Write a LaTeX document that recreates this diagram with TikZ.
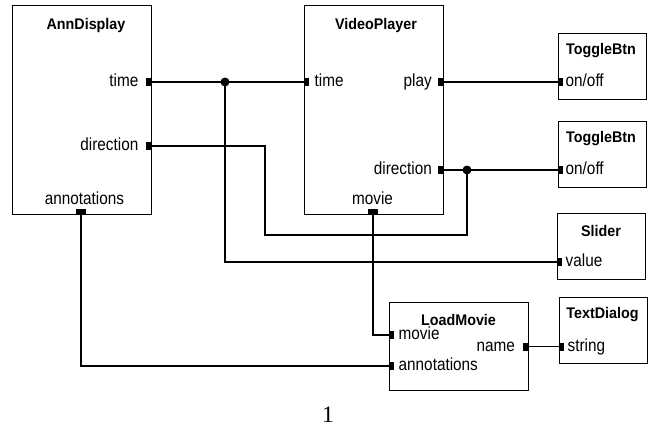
\documentclass[tikz,border=0pt]{standalone}
\usepackage{fontspec}
\setmainfont{Liberation Sans}
\newfontfamily\titlefont{Liberation Sans}[FakeStretch=0.93]
\newfontfamily\lblfont{Liberation Sans}[FakeStretch=0.875]
\newfontfamily\numfont{Liberation Serif}
\begin{document}
\begin{tikzpicture}[x=1pt,y=-1pt,
  block/.style={draw, line width=1.1pt, inner sep=0pt, anchor=north west},
  rport/.style={fill, inner sep=0pt, minimum width=5pt, minimum height=8pt, anchor=east},
  lport/.style={fill, inner sep=0pt, minimum width=5pt, minimum height=8pt, anchor=west},
  bport/.style={fill, inner sep=0pt, minimum width=10pt, minimum height=5pt, anchor=south},
  title/.style={inner sep=0pt, anchor=base, font=\titlefont\bfseries\fontsize{15.4}{18}\selectfont},
  lbl/.style={inner sep=0pt, font=\lblfont\fontsize{17.5}{20}\selectfont},
  rlbl/.style={lbl, anchor=base east},
  llbl/.style={lbl, anchor=base west},
  blbl/.style={lbl, anchor=base},
  wire/.style={line width=1.1pt},
  junction/.style={circle, fill, inner sep=0pt, minimum size=9pt}
]
\useasboundingbox (0,0) rectangle (650,428);

% AnnDisplay
\node[block, minimum width=139pt, minimum height=209pt] (ann) at (12,5) {};
\node[title] (annT) at (86,29.3) {AnnDisplay};
\node[rport] (atime) at (151,82) {};
\node[rlbl] (atimeL) at (138.5,86.8) {time};
\node[rport] (adir) at (151,146) {};
\node[rlbl] (adirL) at (138.5,150.8) {direction};
\node[bport] (aann) at (81,214) {};
\node[blbl] (aannL) at (84.5,204.8) {annotations};

% VideoPlayer
\node[block, minimum width=139pt, minimum height=209pt] (vp) at (304,5) {};
\node[title] (vpT) at (376,29.3) {VideoPlayer};
\node[lport] (vtime) at (304,82) {};
\node[llbl] (vtimeL) at (314.5,86.8) {time};
\node[rport] (vplay) at (443,82) {};
\node[rlbl] (vplayL) at (432,86.8) {play};
\node[rport] (vdir) at (443,170) {};
\node[rlbl] (vdirL) at (432,174.8) {direction};
\node[bport] (vmov) at (373,214) {};
\node[blbl] (vmovL) at (372.5,204.8) {movie};

% ToggleBtn (play)
\node[block, minimum width=88pt, minimum height=66pt] (tb1) at (558,33) {};
\node[title] (tb1T) at (601,54.5) {ToggleBtn};
\node[lport] (tb1p) at (558,82) {};
\node[llbl] (tb1L) at (565.5,86.8) {on/off};

% ToggleBtn (direction)
\node[block, minimum width=88pt, minimum height=66pt] (tb2) at (558,121) {};
\node[title] (tb2T) at (601,142.7) {ToggleBtn};
\node[lport] (tb2p) at (558,170) {};
\node[llbl] (tb2L) at (565.5,174.8) {on/off};

% Slider
\node[block, minimum width=88pt, minimum height=66pt] (sl) at (557,213) {};
\node[title] (slT) at (601,236.5) {Slider};
\node[lport] (sval) at (557,262) {};
\node[llbl] (svalL) at (565.5,266.8) {value};

% LoadMovie
\node[block, minimum width=139pt, minimum height=88pt] (lm) at (389,302) {};
\node[title] (lmT) at (458.5,325) {LoadMovie};
\node[lport] (lmov) at (389,335) {};
\node[llbl] (lmovL) at (398.5,339.8) {movie};
\node[rport] (lname) at (528,346.5) {};
\node[rlbl] (lnameL) at (515,351.3) {name};
\node[lport] (lann) at (389,366) {};
\node[llbl] (lannL) at (398.5,370.8) {annotations};

% TextDialog
\node[block, minimum width=88pt, minimum height=66pt] (td) at (559,297) {};
\node[title] (tdT) at (602.5,318) {TextDialog};
\node[lport] (tstr) at (559,346.5) {};
\node[llbl] (tstrL) at (567.5,351.3) {string};

% junctions and corners
\node[junction] (j1) at (225,82) {};
\node[junction] (j2) at (467,170) {};
\coordinate (c1) at (265,235);

% connections
\draw[wire] (atime.east) -- (j1.center) -- (vtime.west);
\draw[wire] (j1.center) |- (sval.west);
\draw[wire] (vplay.east) -- (tb1p.west);
\draw[wire] (vdir.east) -- (j2.center) -- (tb2p.west);
\draw[wire] (j2.center) |- (c1) |- (adir.east);
\draw[wire] (vmov.south) |- (lmov.west);
\draw[wire] (aann.south) |- (lann.west);
\draw[wire] (lname.east) -- (tstr.west);

% page number
\node[inner sep=0pt, anchor=base, font=\numfont\fontsize{23.5}{26}\selectfont] (pg) at (328,422.5) {1};
\end{tikzpicture}
\end{document}
